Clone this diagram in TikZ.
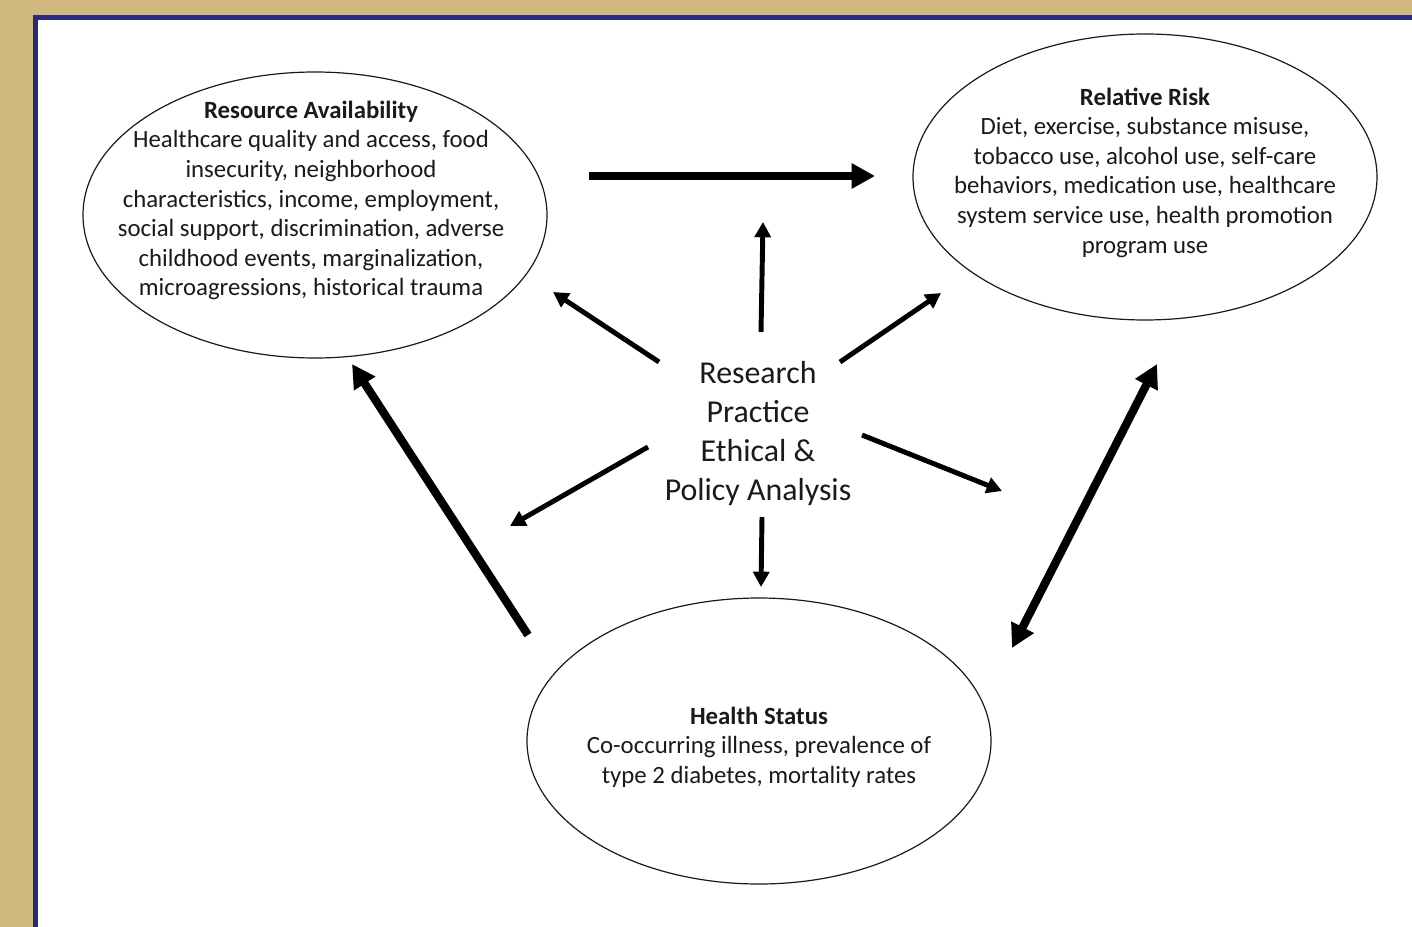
\documentclass[tikz,border=0pt]{standalone}
\usepackage{fontspec}
\setmainfont{Carlito}
\usetikzlibrary{arrows.meta,shapes.geometric}
\definecolor{tanbg}{HTML}{CFB87C}
\definecolor{navy}{HTML}{2B2A7A}
\definecolor{ink}{HTML}{1A1A1A}
\begin{document}
\begin{tikzpicture}[x=0.75pt,y=-0.75pt,
  oval/.style={draw=ink,line width=0.9pt,ellipse,inner sep=0pt,minimum width=348pt,minimum height=214.5pt},
  body/.style={align=center,font=\fontsize{18.6}{22.2}\selectfont,text=ink,inner sep=0pt},
  core/.style={align=center,font=\fontsize{23.9}{29}\selectfont,text=ink,inner sep=0pt},
  thinarrow/.style={line width=3.7pt,-{Triangle[length=11.5pt,width=12pt]}},
  thickarrow/.style={line width=6.2pt,-{Triangle[length=17.5pt,width=18pt]}},
  dblarrow/.style={line width=6.2pt,{Triangle[length=17.5pt,width=18pt]}-{Triangle[length=17.5pt,width=18pt]}},
]
\clip (0,0) rectangle (1412,927);
\useasboundingbox (0,0) rectangle (1412,927);
\fill[tanbg] (0,0) rectangle (1412,927);
\draw[navy,fill=white,line width=3.75pt] (35.5,17.5) rectangle (1430,945);

% ellipses
\node[oval] (res) at (315,215) {};
\node[oval] (risk) at (1145,177) {};
\node[oval] (health) at (759,741) {};

% texts
\node[body] (resT) at (311,200.5) {\textbf{Resource Availability}\\
Healthcare quality and access, food\\
insecurity, neighborhood\\
characteristics, income, employment,\\
social support, discrimination, adverse\\
childhood events, marginalization,\\
microagressions, historical trauma};
\node[body] (riskT) at (1145,172.5) {\textbf{Relative Risk}\\
Diet, exercise, substance misuse,\\
tobacco use, alcohol use, self-care\\
behaviors, medication use, healthcare\\
system service use, health promotion\\
program use};
\node[body] (healthT) at (759,747) {\textbf{Health Status}\\
Co-occurring illness, prevalence of\\
type 2 diabetes, mortality rates};
\node[core] (mid) at (758,433.5) {Research\\Practice\\Ethical \&\\Policy Analysis};

% arrow end points
\coordinate (a1s) at (589,176); \coordinate (a1e) at (875,176);
\coordinate (a2s) at (761,332); \coordinate (a2e) at (763,222);
\coordinate (a3s) at (659,362); \coordinate (a3e) at (553,292);
\coordinate (a4s) at (840,362); \coordinate (a4e) at (941,293);
\coordinate (a5s) at (648,447); \coordinate (a5e) at (510,526);
\coordinate (a6s) at (862,435); \coordinate (a6e) at (1002,491);
\coordinate (a7s) at (762,517); \coordinate (a7e) at (761,587);
\coordinate (a8s) at (528,635); \coordinate (a8e) at (352,364);
\coordinate (a9s) at (1012,648); \coordinate (a9e) at (1157,364);

\draw[thickarrow] (a1s) -- (a1e);
\draw[thinarrow] (a2s) -- (a2e);
\draw[thinarrow] (a3s) -- (a3e);
\draw[thinarrow] (a4s) -- (a4e);
\draw[thinarrow] (a5s) -- (a5e);
\draw[thinarrow] (a6s) -- (a6e);
\draw[thinarrow] (a7s) -- (a7e);
\draw[thickarrow] (a8s) -- (a8e);
\draw[dblarrow] (a9s) -- (a9e);
\end{tikzpicture}
\end{document}
